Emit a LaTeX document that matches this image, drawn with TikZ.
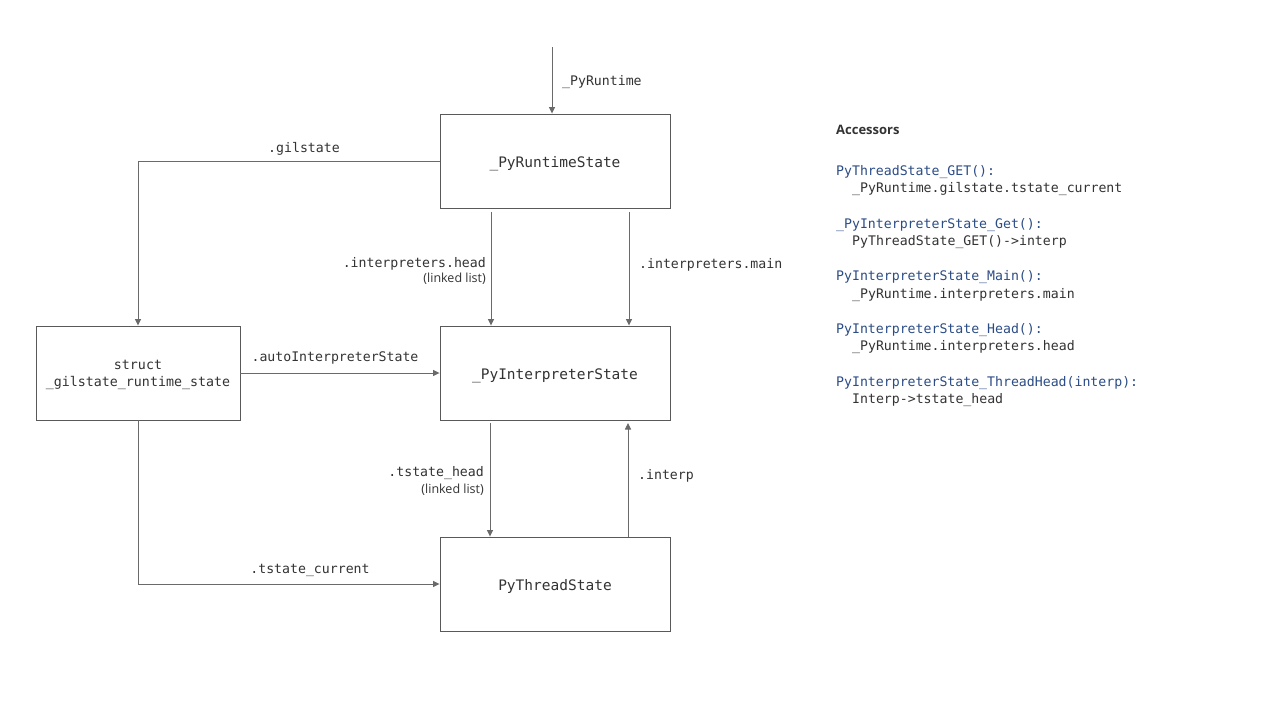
\documentclass[tikz,border=0pt]{standalone}
\usepackage{fontspec}
\setmainfont{Open Sans}
\setmonofont{DejaVu Sans Mono}
\usetikzlibrary{arrows.meta}
\definecolor{boxline}{HTML}{595959}
\definecolor{arrline}{HTML}{6A6A6A}
\definecolor{txt}{HTML}{333333}
\definecolor{acc}{HTML}{2B4C85}
\tikzset{
  box/.style={draw=boxline, line width=0.9pt, minimum width=230pt, minimum height=94pt, inner sep=0pt, font=\fontsize{14.5}{17}\selectfont\ttfamily, text=txt, align=center},
  conn/.style={draw=arrline, line width=0.9pt, -{Triangle[length=6.5pt,width=6pt]}},
  lbl/.style={font=\fontsize{13.2}{15}\selectfont\ttfamily, text=txt, inner sep=0pt},
  sub/.style={font=\fontsize{12.5}{14}\selectfont, text=txt, inner sep=0pt},
  accb/.style={font=\fontsize{13.2}{15}\selectfont\ttfamily, text=acc, anchor=west, inner sep=0pt},
  accg/.style={font=\fontsize{13.2}{15}\selectfont\ttfamily, text=txt, anchor=west, inner sep=0pt}
}
\begin{document}
\begin{tikzpicture}[x=1pt,y=-1pt]
\useasboundingbox[fill=white] (0,0) rectangle (1280,720);
% boxes
\node[box] (rt) at (555,161) {};
\node[box] (is) at (555,373) {};
\node[box] (ts) at (555,584) {};
\node[box, minimum width=204pt] (gil) at (138,373) {};
\node[box, draw=none] (rtt) at (555,163.5) {\_PyRuntimeState};
\node[box, draw=none] (ist) at (555,375.5) {\_PyInterpreterState};
\node[box, draw=none] (tst) at (555,586) {PyThreadState};
\node[box, draw=none, minimum width=204pt, font=\fontsize{13.3}{17}\selectfont\ttfamily] (gilt) at (138,375) {struct\\\_gilstate\_runtime\_state};
% connectors
\coordinate (top) at (552,47);
\draw[conn] (top) -- (552,114 |- rt.north);
\node[lbl, anchor=west] (lrt) at (562,82) {\_PyRuntime};

\draw[conn] (rt.west |- 0,161) -| (gil.north);
\node[lbl] (lgil) at (304,149) {.gilstate};

\draw[conn] (491,212) coordinate (ih0) -- (ih0 |- is.north);
\node[lbl, anchor=east] (lih) at (486,264) {.interpreters.head};
\node[sub, anchor=east] (lih2) at (486,279) {(linked list)};

\draw[conn] (629,212) coordinate (im0) -- (im0 |- is.north);
\node[lbl, anchor=west] (lim) at (639,265) {.interpreters.main};

\draw[conn] (gil.east) -- (is.west);
\node[lbl] (lauto) at (335,358) {.autoInterpreterState};

\draw[conn] (490,423) coordinate (th0) -- (th0 |- ts.north);
\node[lbl, anchor=east] (lth) at (484,473) {.tstate\_head};
\node[sub, anchor=east] (lth2) at (484,490) {(linked list)};

\draw[conn] (628,537) coordinate (ip0) -- (628,423);
\node[lbl, anchor=west] (lip) at (638,476) {.interp};

\draw[conn] (gil.south) |- (ts.west);
\node[lbl] (ltc) at (310,570) {.tstate\_current};

% accessors
\node[font=\fontsize{13}{15}\selectfont\bfseries, text=txt, anchor=west, inner sep=0pt] (hdr) at (836,130) {Accessors};
\node[accb] (a1) at (836,172) {PyThreadState\_GET():};
\node[accg] (b1) at (852,189) {\_PyRuntime.gilstate.tstate\_current};
\node[accb] (a2) at (836,225) {\_PyInterpreterState\_Get():};
\node[accg] (b2) at (852,242) {PyThreadState\_GET()->interp};
\node[accb] (a3) at (836,277) {PyInterpreterState\_Main():};
\node[accg] (b3) at (852,295) {\_PyRuntime.interpreters.main};
\node[accb] (a4) at (836,330) {PyInterpreterState\_Head():};
\node[accg] (b4) at (852,347) {\_PyRuntime.interpreters.head};
\node[accb] (a5) at (836,383) {PyInterpreterState\_ThreadHead(interp):};
\node[accg] (b5) at (852,400) {Interp->tstate\_head};
\end{tikzpicture}
\end{document}
